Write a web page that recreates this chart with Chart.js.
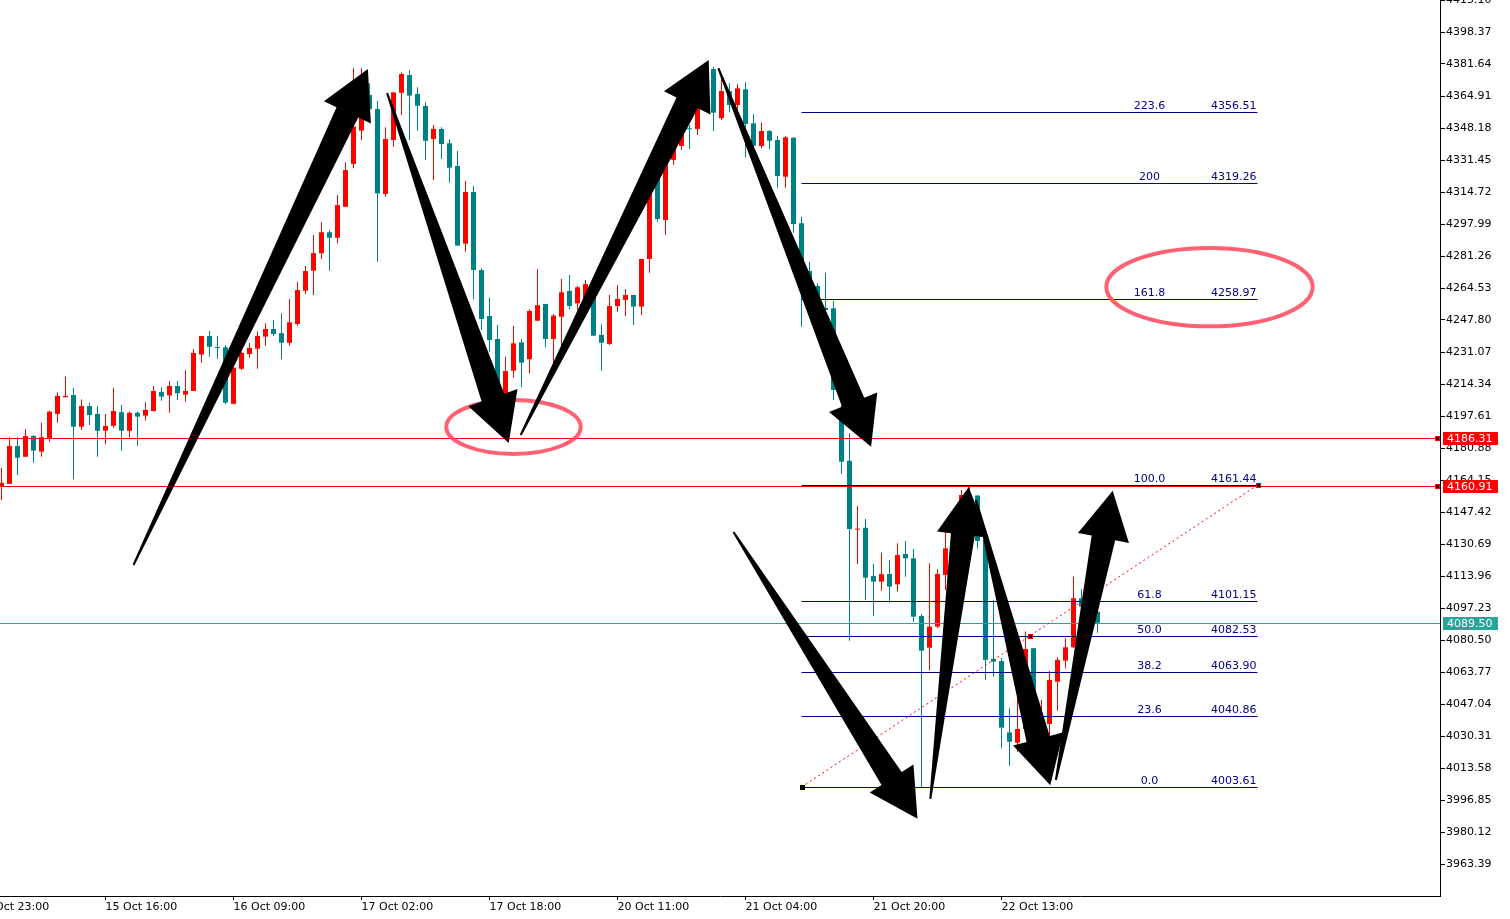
<!DOCTYPE html>
<html>
<head>
<meta charset="utf-8">
<script src="https://cdn.jsdelivr.net/npm/chart.js@4.4.0/dist/chart.umd.min.js"></script>
<style>
html, body { margin: 0; padding: 0; background: #fff; overflow: hidden; }
#wrap { width: 1510px; height: 919px; position: relative; }
</style>
</head>
<body>
<div id="wrap"><canvas id="chart"></canvas></div>
<script>
// hourly candles, bar 0 = first visible bar on the left
const opens = [
    4160.6, 4162.1, 4181.9, 4176.3, 4187.2, 4179.0, 4185.6, 4198.7, 4207.4, 4208.6,
    4192.0, 4202.8, 4198.7, 4189.9, 4192.5, 4199.6, 4189.9, 4199.3, 4197.8, 4200.2,
    4210.2, 4208.4, 4213.3, 4208.8, 4210.7, 4229.7, 4239.4, 4233.5, 4233.5, 4204.0,
    4222.3, 4230.0, 4232.8, 4239.1, 4243.1, 4240.9, 4235.9, 4245.7, 4263.1, 4273.6,
    4282.7, 4293.7, 4290.8, 4307.0, 4329.4, 4346.8, 4365.4, 4358.1, 4313.7, 4341.9,
    4366.6, 4375.9, 4366.0, 4359.7, 4342.4, 4347.7, 4340.2, 4328.3, 4287.7, 4314.7,
    4273.9, 4249.9, 4237.9, 4206.9, 4221.3, 4236.1, 4227.3, 4247.4, 4256.2, 4237.9,
    4249.5, 4263.0, 4256.5, 4258.3, 4264.4, 4240.0, 4235.3, 4255.1, 4258.3, 4260.9,
    4254.8, 4279.7, 4323.6, 4300.1, 4331.5, 4338.8, 4347.8, 4347.7, 4359.7, 4379.0,
    4353.3, 4367.5, 4360.2, 4368.4, 4350.6, 4338.8, 4346.6, 4341.9, 4322.7, 4343.1,
    4298.4, 4273.4, 4265.6, 4254.1, 4253.9, 4199.7, 4174.2, 4138.2, 4139.2, 4114.0,
    4111.0, 4115.0, 4109.6, 4125.5, 4123.2, 4093.1, 4076.5, 4087.5, 4114.5, 4128.6,
    4143.2, 4135.4, 4156.0, 4132.8, 4070.6, 4069.5, 4032.2, 4026.8, 4034.0, 4076.2,
    4030.8, 4036.6, 4058.7, 4069.7, 4076.7, 4102.3, 4098.3, 4095.3
];
const highs = [
    4170.4, 4186.5, 4186.5, 4190.8, 4187.7, 4194.1, 4200.4, 4210.0, 4218.2, 4212.3,
    4206.3, 4204.6, 4202.8, 4198.7, 4212.4, 4203.4, 4199.9, 4199.9, 4204.8, 4213.3,
    4212.6, 4215.9, 4215.9, 4221.7, 4232.6, 4239.4, 4242.1, 4239.4, 4234.7, 4223.2,
    4231.2, 4235.8, 4241.7, 4246.1, 4247.8, 4251.3, 4258.8, 4267.8, 4276.0, 4292.2,
    4298.9, 4294.9, 4313.2, 4330.3, 4379.4, 4379.4, 4371.6, 4362.3, 4348.6, 4366.8,
    4377.3, 4378.5, 4369.5, 4361.6, 4349.8, 4348.6, 4342.3, 4336.2, 4320.5, 4317.9,
    4274.8, 4259.5, 4245.2, 4228.6, 4244.7, 4237.9, 4253.4, 4274.5, 4256.2, 4250.9,
    4269.2, 4271.3, 4265.6, 4268.7, 4266.1, 4245.6, 4260.9, 4266.1, 4263.9, 4260.9,
    4279.7, 4322.7, 4324.7, 4334.1, 4341.9, 4352.4, 4349.8, 4362.8, 4380.6, 4380.2,
    4375.0, 4371.6, 4371.0, 4372.1, 4355.5, 4351.0, 4347.1, 4344.0, 4344.0, 4343.3,
    4301.8, 4278.3, 4267.0, 4272.5, 4257.9, 4203.4, 4188.6, 4150.6, 4143.8, 4120.2,
    4126.1, 4122.3, 4131.1, 4132.3, 4128.1, 4094.1, 4120.6, 4117.5, 4140.6, 4145.9,
    4158.9, 4161.0, 4156.3, 4135.4, 4101.4, 4071.1, 4044.8, 4084.7, 4084.9, 4076.2,
    4049.1, 4064.3, 4071.5, 4081.4, 4113.6, 4107.0, 4116.7, 4098.8
];
const lows = [
    4153.7, 4162.1, 4166.8, 4176.3, 4173.2, 4176.3, 4184.2, 4194.1, 4207.4, 4164.5,
    4190.3, 4192.9, 4176.3, 4182.8, 4191.5, 4179.5, 4186.5, 4181.9, 4195.2, 4199.9,
    4205.6, 4199.3, 4206.0, 4205.1, 4210.7, 4225.5, 4228.6, 4227.4, 4203.7, 4203.7,
    4221.7, 4228.1, 4222.3, 4234.4, 4239.4, 4227.3, 4234.4, 4244.8, 4261.2, 4260.9,
    4279.7, 4273.6, 4287.9, 4307.0, 4327.1, 4341.9, 4355.0, 4278.3, 4312.3, 4338.4,
    4355.0, 4341.9, 4346.8, 4331.5, 4321.0, 4332.0, 4319.6, 4286.7, 4283.5, 4258.6,
    4242.6, 4231.2, 4208.6, 4203.4, 4217.8, 4212.6, 4219.9, 4247.4, 4233.5, 4219.1,
    4230.0, 4253.4, 4253.0, 4255.6, 4239.4, 4221.3, 4234.7, 4252.1, 4249.9, 4245.2,
    4250.4, 4272.5, 4299.2, 4292.2, 4328.8, 4336.7, 4337.2, 4344.5, 4357.6, 4346.6,
    4352.4, 4356.4, 4355.3, 4332.7, 4336.7, 4337.6, 4337.2, 4317.0, 4317.0, 4293.4,
    4244.3, 4258.3, 4253.0, 4247.8, 4206.0, 4167.3, 4080.1, 4120.2, 4101.4, 4093.2,
    4106.3, 4100.0, 4105.8, 4113.6, 4090.1, 4003.6, 4064.5, 4086.8, 4106.6, 4124.9,
    4140.6, 4127.6, 4128.4, 4059.6, 4061.3, 4023.9, 4014.8, 4022.1, 4030.8, 4025.6,
    4025.6, 4023.4, 4043.5, 4065.7, 4076.3, 4088.3, 4095.1, 4084.3
];
const closes = [
    4162.7, 4181.9, 4175.8, 4187.2, 4179.5, 4186.5, 4199.9, 4208.1, 4208.1, 4192.0,
    4202.8, 4198.1, 4189.9, 4192.4, 4200.2, 4189.9, 4199.3, 4197.3, 4200.8, 4210.7,
    4207.7, 4213.3, 4209.5, 4210.7, 4230.6, 4239.4, 4233.8, 4233.2, 4204.6, 4222.9,
    4230.6, 4233.2, 4239.4, 4243.1, 4240.5, 4235.9, 4246.6, 4263.5, 4273.4, 4282.8,
    4293.7, 4290.8, 4307.9, 4326.2, 4348.9, 4367.2, 4358.1, 4314.0, 4342.4, 4366.8,
    4376.4, 4365.1, 4359.8, 4341.5, 4347.7, 4339.8, 4327.4, 4286.7, 4314.7, 4273.9,
    4248.3, 4237.3, 4212.1, 4221.1, 4235.6, 4225.5, 4252.5, 4255.5, 4237.9, 4250.1,
    4262.3, 4255.1, 4264.9, 4266.6, 4239.6, 4235.9, 4255.1, 4258.8, 4260.9, 4254.8,
    4279.7, 4318.4, 4300.6, 4331.5, 4338.4, 4348.2, 4347.5, 4359.3, 4379.0, 4356.2,
    4367.5, 4360.2, 4368.9, 4350.3, 4338.9, 4346.6, 4341.5, 4323.1, 4343.3, 4298.0,
    4276.6, 4263.5, 4258.3, 4253.0, 4211.2, 4173.7, 4138.5, 4138.5, 4113.1, 4111.0,
    4114.9, 4108.4, 4124.9, 4123.2, 4092.7, 4074.9, 4087.5, 4115.0, 4128.4, 4143.2,
    4156.3, 4156.3, 4132.3, 4070.1, 4069.2, 4034.7, 4027.3, 4034.0, 4075.8, 4030.8,
    4036.6, 4059.6, 4070.1, 4076.7, 4102.3, 4097.9, 4102.5, 4089.5
];

// time axis: bar index of each labelled tick and its text
const tickBars = [-3, 13, 29, 45, 61, 77, 93, 109, 125];
const tickLabels = ['14 Oct 23:00', '15 Oct 16:00', '16 Oct 09:00', '17 Oct 02:00', '17 Oct 18:00',
    '20 Oct 11:00', '21 Oct 04:00', '21 Oct 20:00', '22 Oct 13:00'];

// price axis
const priceTicks = [3963.39, 3980.12, 3996.85, 4013.58, 4030.31, 4047.04, 4063.77, 4080.50, 4097.23,
    4113.96, 4130.69, 4147.42, 4164.15, 4180.88, 4197.61, 4214.34, 4231.07, 4247.80, 4264.53,
    4281.26, 4297.99, 4314.72, 4331.45, 4348.18, 4364.91, 4381.64, 4398.37, 4415.10];
const priceMin = 3946.66;
const priceMax = 4415.10;
const barMin = -0.1875;
const barMax = 179.8125;

// horizontal price levels with tags on the axis
const levelPrices = [4186.31, 4160.91, 4089.50];
const levelKinds = ['line', 'line', 'last'];

// fibonacci expansion
const fibRatios = ['223.6', '200', '161.8', '100.0', '61.8', '50.0', '38.2', '23.6', '0.0'];
const fibPrices = [4356.51, 4319.26, 4258.97, 4161.44, 4101.15, 4082.53, 4063.90, 4040.86, 4003.61];
const fibFromBar = 100;
const fibToBar = 157;
const fibLabelBar = 143.5;

// hand drawn marks: [tail bar, tail price, tip bar, tip price]
const arrows = [
    [16.5, 4119.7, 45.8, 4379.0],
    [48.2, 4366.5, 63.4, 4183.5],
    [64.9, 4187.7, 88.4, 4383.7],
    [89.6, 4379.5, 108.7, 4181.5],
    [91.5, 4137.0, 114.5, 3987.0],
    [116.1, 3997.5, 120.9, 4160.5],
    [121.8, 4153.7, 131.1, 4004.5],
    [131.8, 4007.3, 138.9, 4158.5]
];
// ellipses: [center bar, center price, radius in bars, radius in price]
const ellipses = [
    [64.0, 4191.9, 8.4, 14.1],
    [151.0, 4265.0, 12.9, 20.5]
];

const BULL = '#ff0000';
const BEAR = '#008080';
const LAST = '#26a69a';
const FIB = '#000080';

Chart.defaults.font.family = 'DejaVu Sans';
Chart.defaults.font.size = 11;

const colors = closes.map((c, i) => c >= opens[i] ? BULL : BEAR);
const bodies = closes.map((c, i) => ({ x: i, y: [opens[i], c] }));
const wicks = closes.map((c, i) => ({ x: i, y: [lows[i], highs[i]] }));

function drawArrow(ctx, x0, y0, x1, y1) {
    const len = Math.hypot(x1 - x0, y1 - y0);
    const ux = (x1 - x0) / len, uy = (y1 - y0) / len;
    const nx = -uy, ny = ux;
    const hl = 48, hw = 26, sw = 12, tw = 1;
    const bx = x1 - ux * hl, by = y1 - uy * hl;
    ctx.beginPath();
    ctx.moveTo(x0 + nx * tw, y0 + ny * tw);
    ctx.lineTo(bx + nx * sw, by + ny * sw);
    ctx.lineTo(bx + nx * hw, by + ny * hw);
    ctx.lineTo(x1, y1);
    ctx.lineTo(bx - nx * hw, by - ny * hw);
    ctx.lineTo(bx - nx * sw, by - ny * sw);
    ctx.lineTo(x0 - nx * tw, y0 - ny * tw);
    ctx.closePath();
    ctx.fill();
}

function handle(ctx, x, y, edge) {
    ctx.fillStyle = edge;
    ctx.fillRect(Math.round(x) - 2, Math.round(y) - 2, 5, 5);
    ctx.fillStyle = '#000';
    ctx.fillRect(Math.round(x) - 1, Math.round(y) - 1, 3, 3);
}

const overlay = {
    id: 'overlay',
    afterDatasetsDraw(chart) {
        const { ctx, chartArea: a, scales: { x, y } } = chart;
        ctx.save();
        ctx.beginPath();
        ctx.rect(a.left, a.top, a.right - a.left, a.bottom - a.top);
        ctx.clip();

        // price levels
        levelPrices.forEach((p, i) => {
            const py = Math.round(y.getPixelForValue(p)) + 0.5;
            ctx.strokeStyle = levelKinds[i] === 'last' ? LAST : BULL;
            ctx.lineWidth = 1;
            ctx.beginPath();
            ctx.moveTo(a.left, py);
            ctx.lineTo(a.right, py);
            ctx.stroke();
        });

        // fibonacci levels
        const fx0 = x.getPixelForValue(fibFromBar);
        const fx1 = x.getPixelForValue(fibToBar);
        const fxl = x.getPixelForValue(fibLabelBar);
        ctx.font = '11px "DejaVu Sans"';
        ctx.textBaseline = 'alphabetic';
        fibPrices.forEach((p, i) => {
            const py = Math.round(y.getPixelForValue(p)) + 0.5;
            ctx.strokeStyle = FIB;
            ctx.beginPath();
            ctx.moveTo(fx0, py);
            ctx.lineTo(fx1, py);
            ctx.stroke();
            ctx.fillStyle = FIB;
            ctx.textAlign = 'center';
            ctx.fillText(fibRatios[i], fxl, py - 4);
            ctx.textAlign = 'right';
            ctx.fillText(p.toFixed(2), fx1 - 1, py - 4);
        });

        // fib trend line
        const ty0 = y.getPixelForValue(fibPrices[fibPrices.length - 1]);
        const ty1 = y.getPixelForValue(fibPrices[3]);
        ctx.strokeStyle = BULL;
        ctx.setLineDash([2, 3]);
        ctx.beginPath();
        ctx.moveTo(fx0, ty0);
        ctx.lineTo(fx1, ty1);
        ctx.stroke();
        ctx.setLineDash([]);
        handle(ctx, fx0, ty0, '#000');
        handle(ctx, (fx0 + fx1) / 2, (ty0 + ty1) / 2, BULL);
        handle(ctx, fx1, ty1, BULL);

        // level anchors at right edge
        levelPrices.forEach((p, i) => {
            if (levelKinds[i] !== 'line') return;
            handle(ctx, a.right - 3, y.getPixelForValue(p), BULL);
        });

        // ellipses
        ctx.strokeStyle = 'rgba(255, 80, 100, 0.9)';
        ctx.lineWidth = 4;
        ellipses.forEach(e => {
            const cx = x.getPixelForValue(e[0]);
            const cy = y.getPixelForValue(e[1]);
            const rx = Math.abs(x.getPixelForValue(e[0] + e[2]) - cx);
            const ry = Math.abs(y.getPixelForValue(e[1] + e[3]) - cy);
            ctx.beginPath();
            ctx.ellipse(cx, cy, rx, ry, 0, 0, Math.PI * 2);
            ctx.stroke();
        });

        // arrows
        ctx.fillStyle = '#000';
        arrows.forEach(r => {
            drawArrow(ctx, x.getPixelForValue(r[0]), y.getPixelForValue(r[1]),
                x.getPixelForValue(r[2]), y.getPixelForValue(r[3]));
        });
        ctx.restore();
    },
    afterDraw(chart) {
        const { ctx, chartArea: a, scales: { y } } = chart;
        ctx.save();
        ctx.font = '11px "DejaVu Sans"';
        ctx.textBaseline = 'middle';
        ctx.textAlign = 'left';
        levelPrices.forEach((p, i) => {
            const py = Math.round(y.getPixelForValue(p));
            ctx.fillStyle = levelKinds[i] === 'last' ? LAST : BULL;
            ctx.fillRect(a.right + 3, py - 6, 55, 13);
            ctx.fillStyle = '#fff';
            ctx.fillText(p.toFixed(2), a.right + 7, py + 1);
        });
        ctx.restore();
    }
};

new Chart(document.getElementById('chart'), {
    type: 'bar',
    data: {
        datasets: [
            {
                label: 'body', data: bodies, backgroundColor: colors, borderWidth: 0,
                barThickness: 5, grouped: false, minBarLength: 1, inflateAmount: 0, order: 0
            },
            {
                label: 'wick', data: wicks, backgroundColor: colors, borderWidth: 0,
                barThickness: 1, grouped: false, inflateAmount: 0, order: 1
            }
        ]
    },
    options: {
        responsive: true,
        maintainAspectRatio: false,
        animation: false,
        events: [],
        layout: { padding: 0, autoPadding: false },
        plugins: { legend: { display: false }, tooltip: { enabled: false } },
        scales: {
            x: {
                type: 'linear',
                position: 'bottom',
                min: barMin,
                max: barMax,
                offset: false,
                afterBuildTicks: s => { s.ticks = tickBars.map(v => ({ value: v })); },
                afterFit: s => { s.height = 23; s.paddingLeft = 0; s.paddingRight = 0; },
                ticks: {
                    autoSkip: false, maxRotation: 0, minRotation: 0, align: 'start', padding: 1,
                    color: '#000',
                    callback: v => tickLabels[tickBars.indexOf(v)]
                },
                grid: { offset: false, drawOnChartArea: false, drawTicks: true, tickLength: 4, color: '#000' },
                border: { display: true, color: '#000' }
            },
            y: {
                type: 'linear',
                position: 'right',
                min: priceMin,
                max: priceMax,
                afterBuildTicks: s => { s.ticks = priceTicks.map(v => ({ value: v })); },
                afterFit: s => { s.width = 70; s.paddingTop = 0; s.paddingBottom = 0; },
                ticks: { padding: 1, color: '#000', callback: v => v.toFixed(2) },
                grid: { drawOnChartArea: false, drawTicks: true, tickLength: 5, color: '#000' },
                border: { display: true, color: '#000' }
            }
        }
    },
    plugins: [overlay]
});
</script>
</body>
</html>
